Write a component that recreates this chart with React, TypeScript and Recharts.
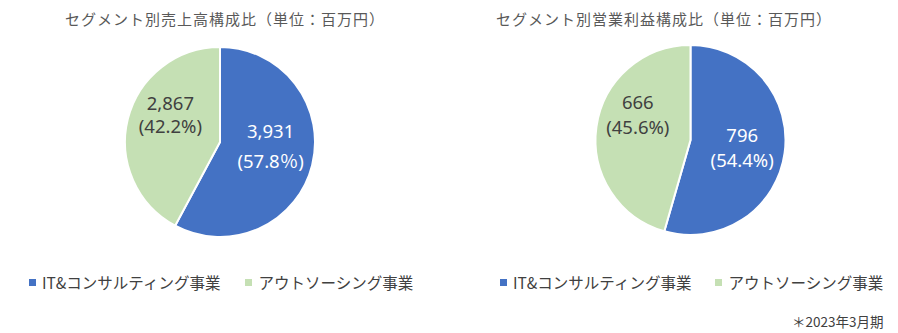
import React from "react";
import { PieChart, Pie, Cell } from "recharts";

const segments = ["IT&コンサルティング事業", "アウトソーシング事業"];
const salesValues = [3931, 2867];
const salesPctLabels = ["57.8％", "42.2%"];
const profitValues = [796, 666];
const profitPctLabels = ["54.4%", "45.6%"];
const colors = ["#4472C4", "#C5E0B4"];
const labelColors = ["#FFFFFF", "#404040"];
const salesTitle = "セグメント別売上高構成比（単位：百万円）";
const profitTitle = "セグメント別営業利益構成比（単位：百万円）";
const footnote = "＊2023年3月期";

const RAD = Math.PI / 180;
const CJK = '"Noto Sans CJK JP", "Noto Sans", sans-serif';
const NUM = '"Noto Sans", "Noto Sans CJK JP", sans-serif';
const NO_MARGIN = { top: 0, right: 0, bottom: 0, left: 0 };

type Nudge = [number, number];

function makeLabel(pctLabels: string[], nudges: Nudge[], lineGaps: number[]) {
  return (props: any) => {
    const { cx, cy, midAngle, outerRadius, index, value } = props;
    const r = outerRadius * 0.56;
    const x = cx + r * Math.cos(-midAngle * RAD) + nudges[index][0];
    const y = cy + r * Math.sin(-midAngle * RAD) + nudges[index][1];
    const gap = lineGaps[index];
    return (
      <text
        x={x}
        y={y}
        textAnchor="middle"
        fill={labelColors[index]}
        fontSize={18.5}
        fontFamily={NUM}
      >
        <tspan x={x} dy={-gap / 2 + 6}>
          {value.toLocaleString("en-US")}
        </tspan>
        <tspan x={x} dy={gap}>
          ({pctLabels[index]})
        </tspan>
      </text>
    );
  };
}

function buildData(values: number[]) {
  return segments.map((name, i) => ({ name, value: values[i] }));
}

function Legend({ left, gap }: { left: number; gap: number }) {
  return (
    <div
      style={{
        position: "absolute",
        left,
        top: 271,
        display: "flex",
        alignItems: "center",
        gap,
        fontFamily: CJK,
        fontSize: 15.5,
        color: "#404040",
        whiteSpace: "nowrap",
      }}
    >
      {segments.map((s, i) => (
        <div key={s} style={{ display: "flex", alignItems: "center" }}>
          <span
            style={{
              display: "inline-block",
              width: 7,
              height: 7,
              background: colors[i],
              marginRight: 6,
            }}
          />
          <span>{s}</span>
        </div>
      ))}
    </div>
  );
}

function Title({ text, center }: { text: string; center: number }) {
  return (
    <div
      style={{
        position: "absolute",
        left: center - 200,
        width: 400,
        top: 8,
        textAlign: "center",
        fontFamily: CJK,
        fontSize: 15,
        letterSpacing: 1,
        color: "#595959",
        whiteSpace: "nowrap",
      }}
    >
      {text}
    </div>
  );
}

export default function App() {
  const salesData = buildData(salesValues);
  const profitData = buildData(profitValues);
  return (
    <div
      style={{
        position: "absolute",
        left: 0,
        top: 0,
        width: 898,
        height: 333,
        background: "#FFFFFF",
        overflow: "hidden",
      }}
    >
      <Title text={salesTitle} center={225} />
      <Title text={profitTitle} center={664} />
      <div style={{ position: "absolute", left: 0, top: 0 }}>
        <PieChart width={449} height={333} margin={NO_MARGIN}>
          <Pie
            data={salesData}
            dataKey="value"
            nameKey="name"
            cx={220}
            cy={142}
            outerRadius={95}
            startAngle={90}
            endAngle={-270}
            stroke="#FFFFFF"
            strokeWidth={2}
            isAnimationActive={false}
            labelLine={false}
            label={makeLabel(salesPctLabels, [[-1, -8], [2, -14]], [30, 23])}
          >
            {salesData.map((d, i) => (
              <Cell key={d.name} fill={colors[i]} />
            ))}
          </Pie>
        </PieChart>
      </div>
      <div style={{ position: "absolute", left: 449, top: 0 }}>
        <PieChart width={449} height={333} margin={NO_MARGIN}>
          <Pie
            data={profitData}
            dataKey="value"
            nameKey="name"
            cx={241.5}
            cy={140}
            outerRadius={95}
            startAngle={90}
            endAngle={-270}
            stroke="#FFFFFF"
            strokeWidth={2}
            isAnimationActive={false}
            labelLine={false}
            label={makeLabel(profitPctLabels, [[-1, 1], [0, -17]], [25, 25])}
          >
            {profitData.map((d, i) => (
              <Cell key={d.name} fill={colors[i]} />
            ))}
          </Pie>
        </PieChart>
      </div>
      <Legend left={29} gap={25} />
      <Legend left={500} gap={24} />
      <div
        style={{
          position: "absolute",
          left: 792,
          top: 311,
          fontFamily: CJK,
          fontSize: 13.5,
          color: "#404040",
          whiteSpace: "nowrap",
        }}
      >
        {footnote}
      </div>
    </div>
  );
}
